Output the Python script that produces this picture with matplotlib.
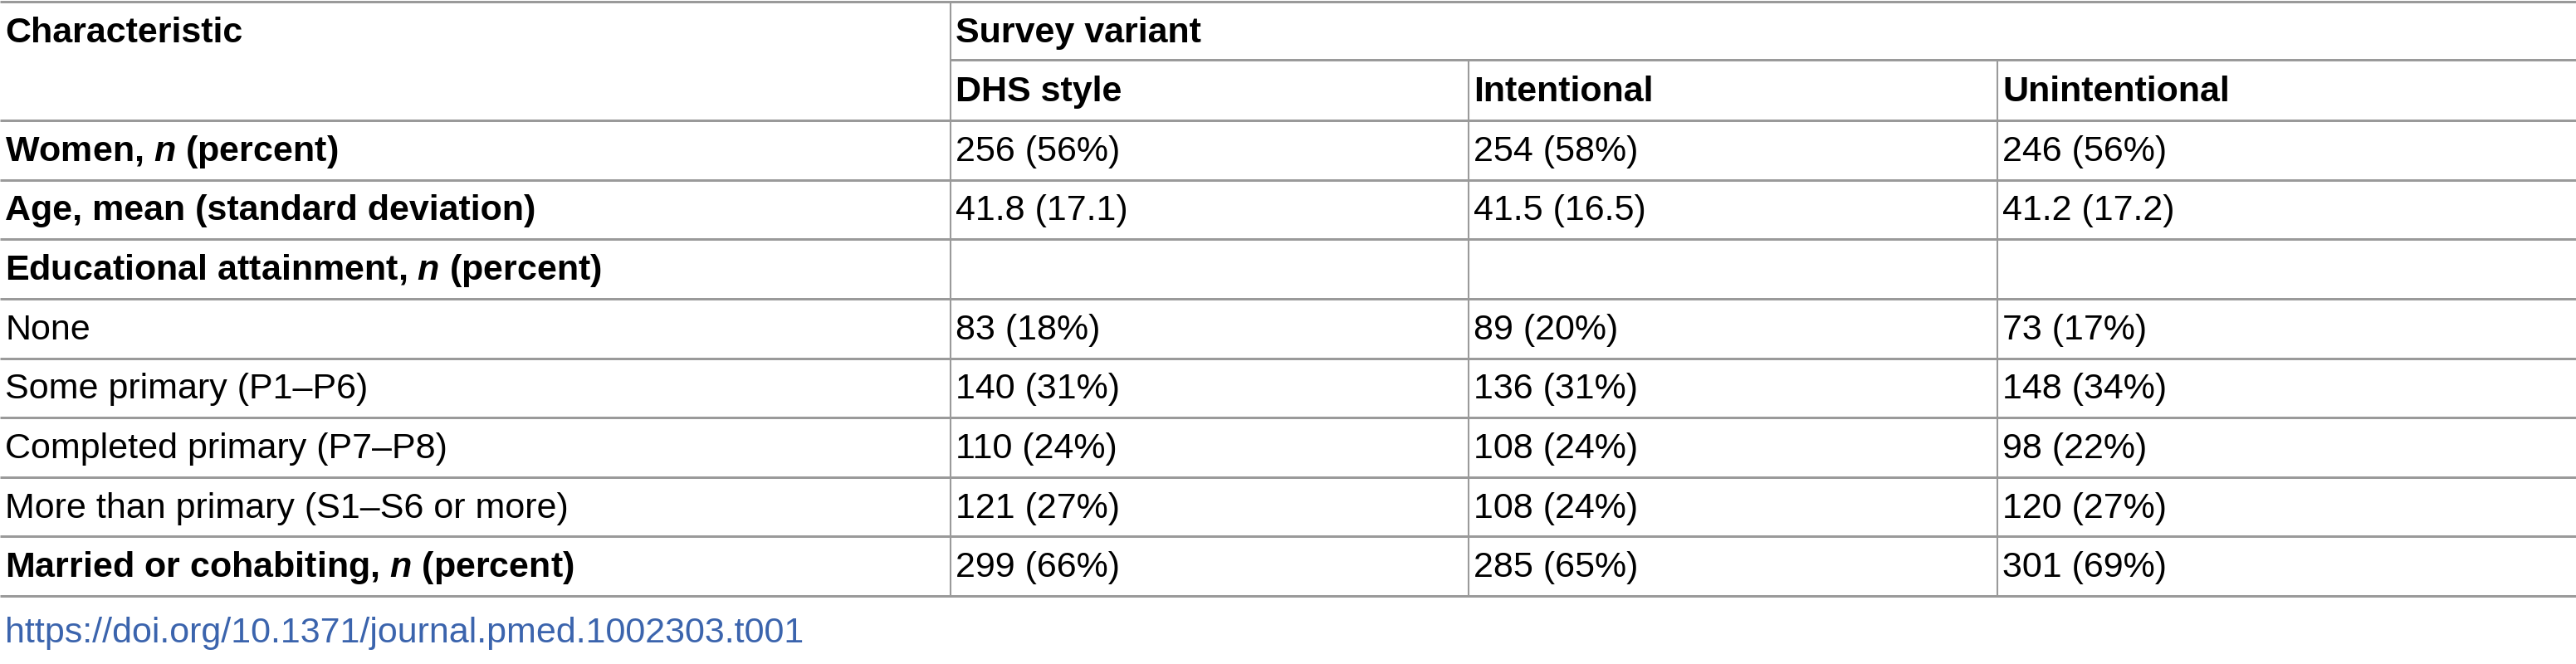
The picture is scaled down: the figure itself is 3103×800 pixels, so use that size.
import matplotlib
matplotlib.use("Agg")
import matplotlib.pyplot as plt

row_labels = ["Women, $\\mathbfit{n}$ (percent)", "Age, mean (standard deviation)",
              "Educational attainment, $\\mathbfit{n}$ (percent)", "None", "Some primary (P1–P6)",
              "Completed primary (P7–P8)", "More than primary (S1–S6 or more)",
              "Married or cohabiting, $\\mathbfit{n}$ (percent)"]
row_bold = [True, True, True, False, False, False, False, True]
columns = ["DHS style", "Intentional", "Unintentional"]
dhs = ["256 (56%)", "41.8 (17.1)", "", "83 (18%)", "140 (31%)", "110 (24%)", "121 (27%)", "299 (66%)"]
intentional = ["254 (58%)", "41.5 (16.5)", "", "89 (20%)", "136 (31%)", "108 (24%)", "108 (24%)", "285 (65%)"]
unintentional = ["246 (56%)", "41.2 (17.2)", "", "73 (17%)", "148 (34%)", "98 (22%)", "120 (27%)", "301 (69%)"]
footer = "https://doi.org/10.1371/journal.pmed.1002303.t001"

W, H = 3103, 800
fig = plt.figure(figsize=(W/100, H/100), dpi=100)
ax = fig.add_axes([0, 0, 1, 1])
ax.set_xlim(0, W); ax.set_ylim(H, 0); ax.axis("off")
plt.rcParams['mathtext.fontset'] = 'custom'
plt.rcParams['mathtext.it'] = 'Liberation Sans:italic'
plt.rcParams['mathtext.bfit'] = 'Liberation Sans:bold:italic'
plt.rcParams['mathtext.bf'] = 'Liberation Sans:bold'

FONT = "Liberation Sans"
FS = 31
LC = "#9a9a9a"
col_x = [0, 1145, 1769, 2406, W]
top, mid, hdr = 2, 72, 145
rh = (718 - 145) / 8

def hline(y, x0=0, x1=W, lw=3):
    ax.plot([x0, x1], [y, y], color=LC, lw=lw*0.72, solid_capstyle="butt")

def vline(x, y0, y1):
    ax.plot([x, x], [y0, y1], color=LC, lw=1.5, solid_capstyle="butt")

hline(top); hline(mid, col_x[1]); hline(hdr)
for i in range(len(row_labels)):
    hline(hdr + rh*(i+1))
vline(col_x[1], top, hdr + rh*8)
vline(col_x[2], mid, hdr + rh*8)
vline(col_x[3], mid, hdr + rh*8)

pad = 6
ax.text(pad, 40, "Characteristic", fontsize=FS, family=FONT, weight="bold", va="center")
ax.text(col_x[1]+pad, 40, "Survey variant", fontsize=FS, family=FONT, weight="bold", va="center")
for j, c in enumerate(columns):
    ax.text(col_x[j+1]+pad, 111, c, fontsize=FS, family=FONT, weight="bold", va="center")

for i, lab in enumerate(row_labels):
    y = hdr + rh*i + rh/2 + 2
    ax.text(pad, y, lab, fontsize=FS, family=FONT, weight="bold" if row_bold[i] else "normal", va="center")
    for j, vals in enumerate([dhs, intentional, unintentional]):
        ax.text(col_x[j+1]+pad, y, vals[i], fontsize=FS, family=FONT, va="center")

ax.text(pad, 763, footer, fontsize=FS, family=FONT, color="#3b64ad", va="center")
fig.savefig("out.png", dpi=100)
